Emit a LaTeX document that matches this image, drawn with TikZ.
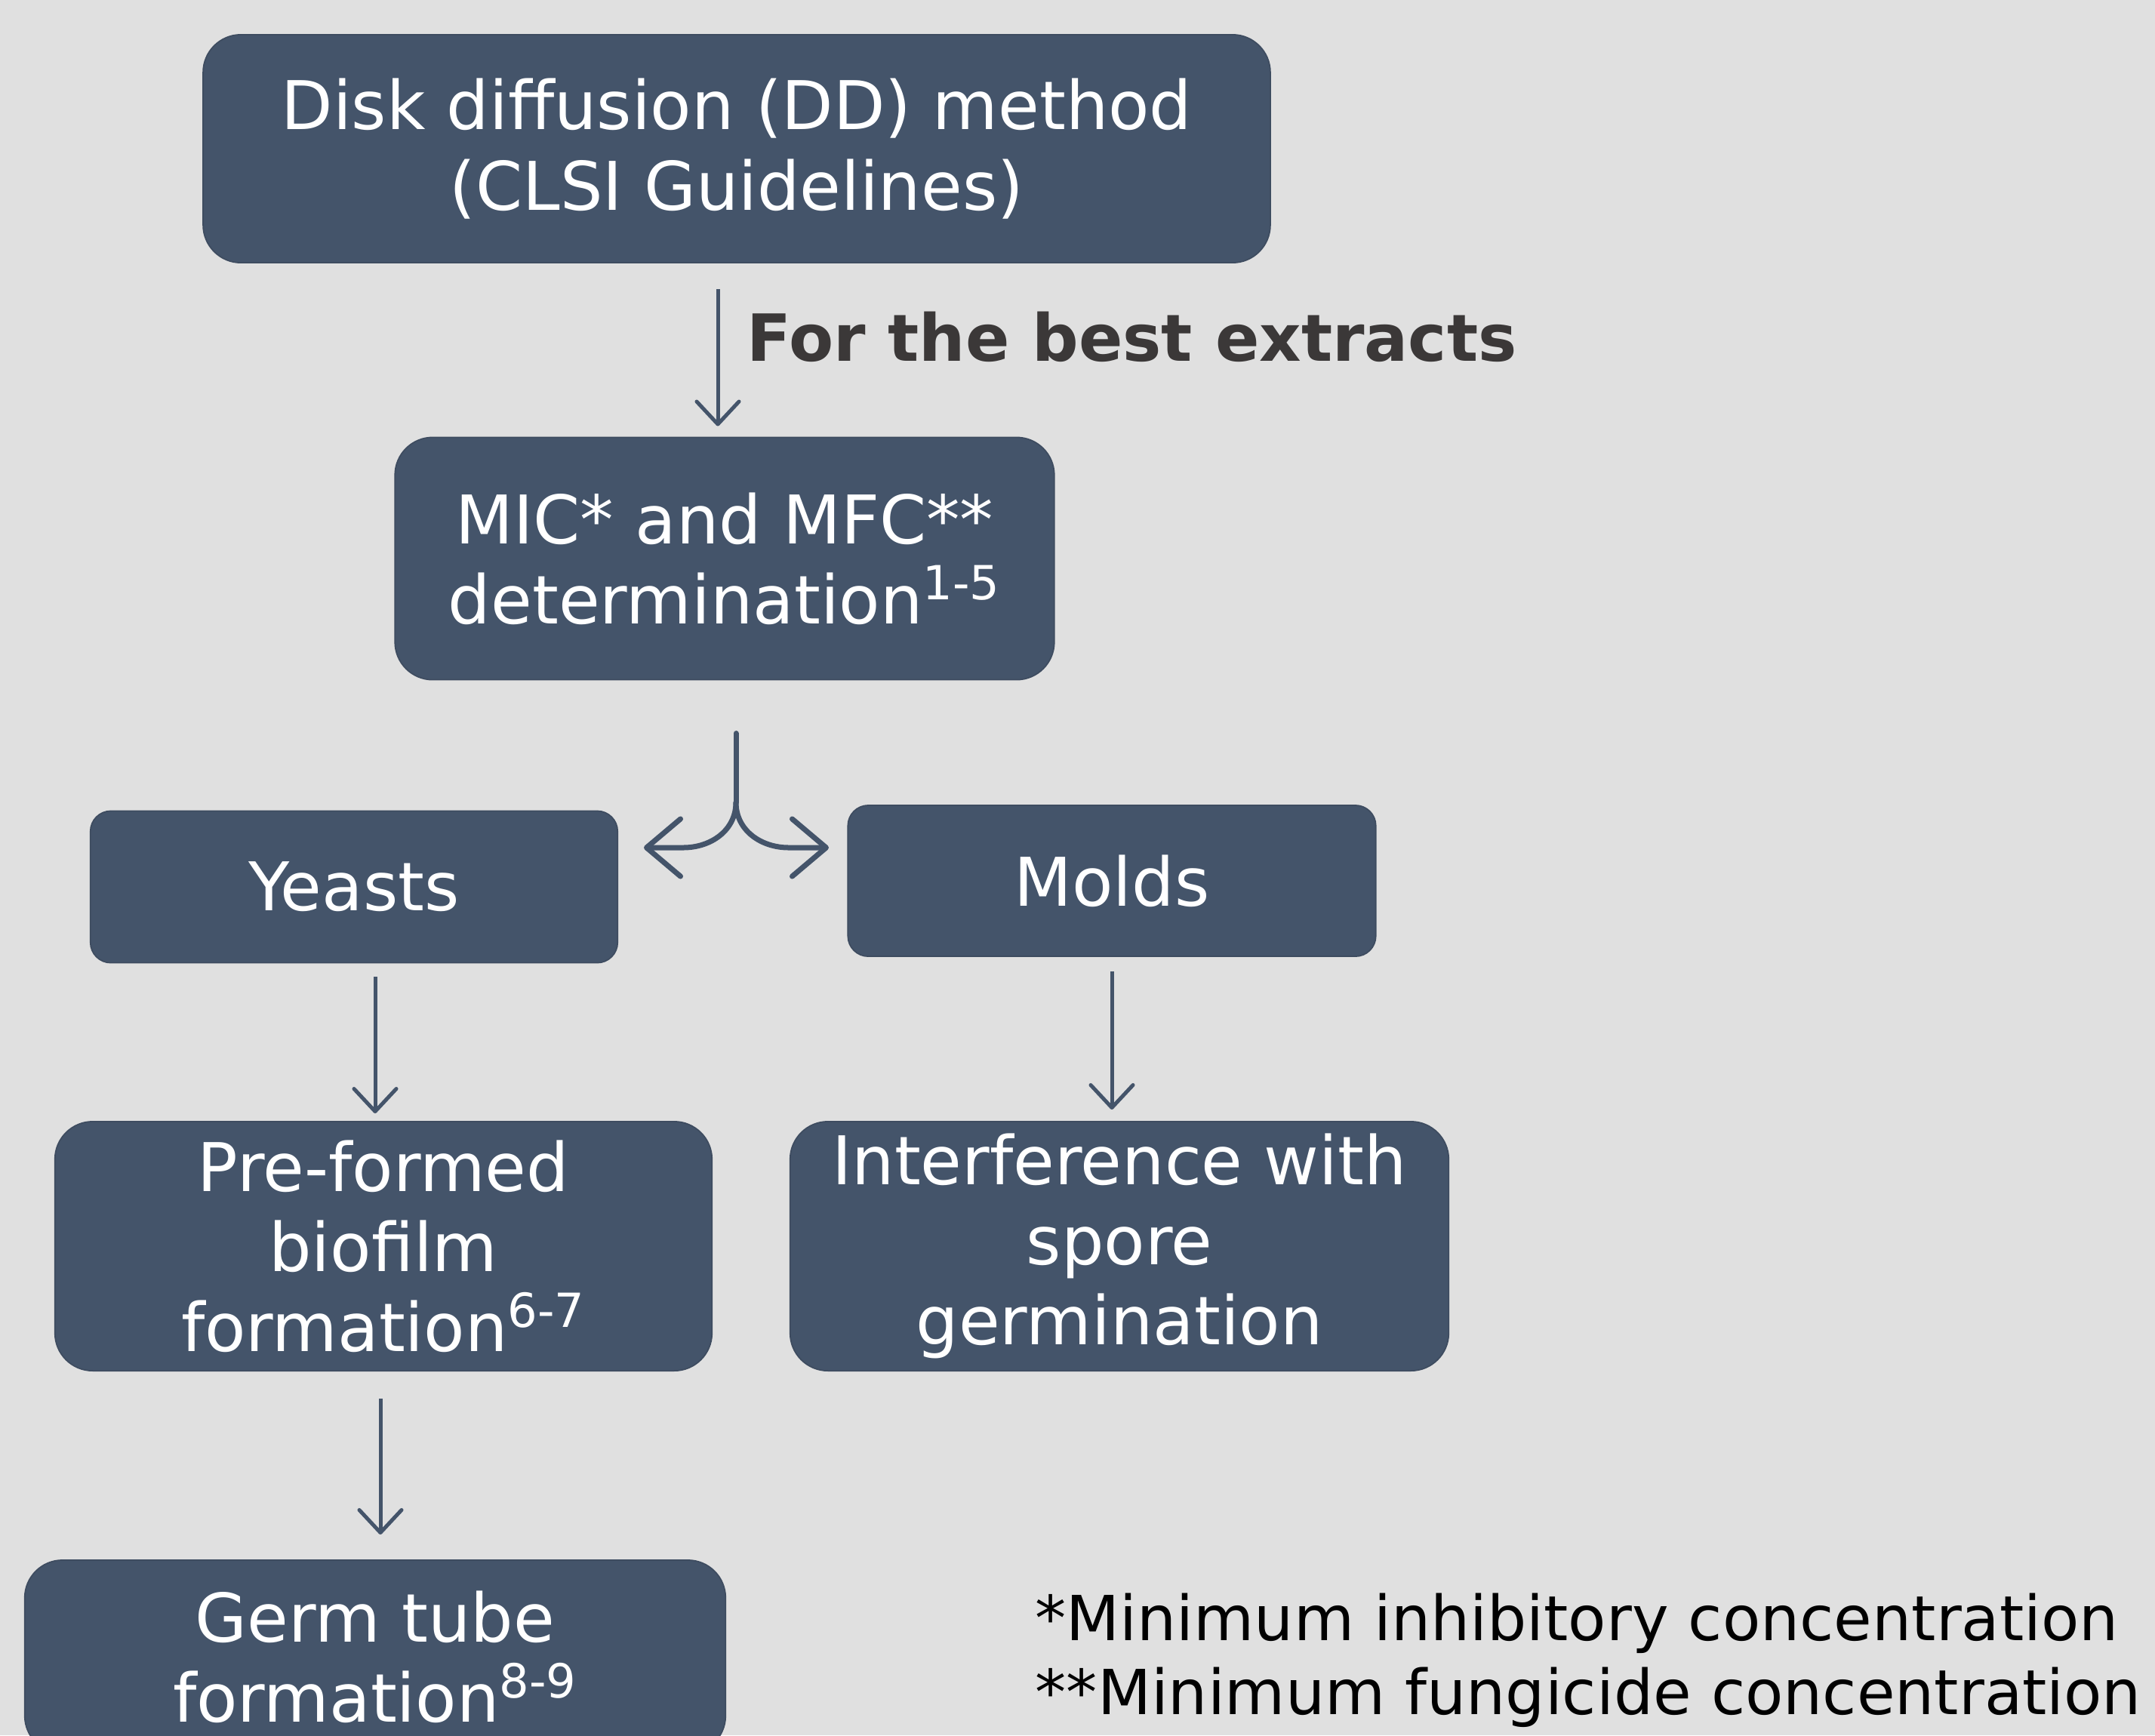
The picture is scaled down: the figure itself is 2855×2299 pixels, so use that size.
\documentclass[tikz,border=0pt]{standalone}
\usepackage{fontspec}
\setmainfont{DejaVu Sans}
\usetikzlibrary{arrows.meta}
\tikzset{box/.style 2 args = {
    rounded corners = 0.5cm,
    minimum width = #1,
    minimum height = #2,
    inner sep = 0pt,
    align = center,
    fill = B1,
    draw = B2,
    line width = 0.5pt,
    text = white,
}}
\tikzset{flow/.style = {
    B1,
    line width = 0.05cm,
    -{Straight Barb[length=0.3cm,width=0.56cm,round]},
}}
\tikzset{forkline/.style = {
    B1,
    line width = 0.07cm,
    line cap = round,
}}
\definecolor{B1}{HTML}{44546A}
\definecolor{B2}{HTML}{3E4C60}
\definecolor{BG}{HTML}{E0E0E0}
\definecolor{T1}{HTML}{3B3838}

\begin{document}
\begin{tikzpicture}[x=0.01cm,y=-0.01cm]
  \fontsize{25.3pt}{30.2pt}\selectfont
  \useasboundingbox (0,0) rectangle (2855,2299);
  \fill[BG] (0,0) rectangle (2855,2299);
  % boxes
  \node[box={14.13cm}{3.02cm}](dd) at (976, 197) {Disk diffusion (DD) method\\(CLSI Guidelines)};
  \node[box={ 8.73cm}{3.21cm}](mic) at (960, 740) {MIC* and MFC**\\determination\textsuperscript{1-5}};
  \node[box={ 6.98cm}{2.01cm},rounded corners=0.27cm](yeasts) at (469,1175) {Yeasts};
  \node[box={ 6.99cm}{2.00cm},rounded corners=0.27cm](molds) at (1473,1167) {Molds};
  \node[box={ 8.70cm}{3.30cm}](biofilm) at (508,1651) {Pre-formed\\biofilm\\formation\textsuperscript{6-7}};
  \node[box={ 8.72cm}{3.30cm}](spore) at (1483,1651) {Interference with\\spore\\germination};
  \node[box={ 9.28cm}{2.56cm}](germ) at (497,2195) {Germ tube\\formation\textsuperscript{8-9}};
  \node[T1,anchor=west,inner sep=0pt,font=\bfseries\fontsize{24.5pt}{29pt}\selectfont](best) at (989,446) {For the best extracts};
  \node[black,anchor=west,inner sep=0pt,align=left,font=\fontsize{23.4pt}{27.9pt}\selectfont](notes) at (1371,2200)
    {*Minimum inhibitory concentration\\**Minimum fungicide concentration};
  % arrows
  \draw[flow,shorten <=0.34cm,shorten >=0.14cm](dd.south -| 951,0) -- (mic.north -| 951,0);
  \draw[flow,shorten <=0.18cm,shorten >=0.10cm](yeasts.south -| 497,0) -- (biofilm.north -| 497,0);
  \draw[flow,shorten <=0.19cm,shorten >=0.15cm](molds.south -| 1473,0) -- (spore.north -| 1473,0);
  \draw[flow,shorten <=0.36cm,shorten >=0.33cm](biofilm.south -| 504,0) -- (germ.north -| 504,0);
  % split
  \coordinate (fork) at (975,1063);
  \coordinate (forkL) at (853,1123);
  \coordinate (forkR) at (1098,1123);
  \draw[forkline,shorten <=0.7cm](mic.south -| fork) -- (fork);
  \draw[forkline,-{Straight Barb[length=0.45cm,width=0.76cm,round]}]
    (fork) .. controls (975,1100) and (942,1123) .. (905,1123) -- (forkL);
  \draw[forkline,-{Straight Barb[length=0.45cm,width=0.76cm,round]}]
    (fork) .. controls (975,1100) and (1008,1123) .. (1045,1123) -- (forkR);
\end{tikzpicture}
\end{document}
